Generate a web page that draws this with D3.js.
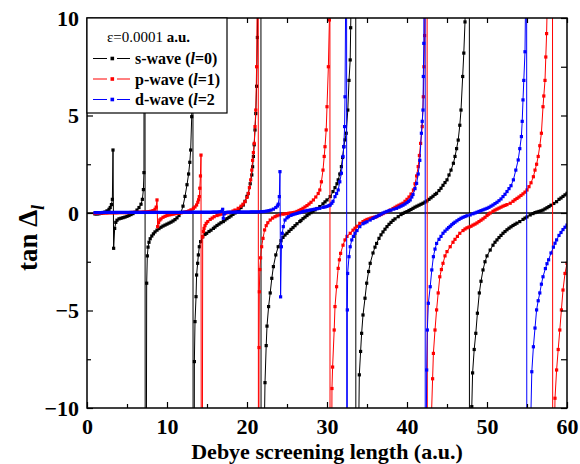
<!DOCTYPE html>
<html>
<head>
<meta charset="utf-8">
<script src="https://cdn.jsdelivr.net/npm/d3@7"></script>
<style>
  body { margin: 0; background: #fff; }
  text { font-family: "Liberation Serif", "Times New Roman", serif; }
</style>
</head>
<body>
<div id="chart"></div>
<script>
// tan(delta_l) vs Debye screening length
const sWave = [[1.0,-0.05],[1.25,-0.05],[1.5,-0.04],[1.75,-0.02],[2.0,0.01],[2.25,0.05],[2.5,0.11],[2.75,0.19],[2.9,0.28],[3.05,0.43],[3.17,0.7],[3.25,3.23],[3.33,-1.81],[3.46,-0.79],[3.6,-0.48],[3.75,-0.37],[4.0,-0.3],[4.25,-0.27],[4.5,-0.24],[4.75,-0.21],[5.0,-0.17],[5.25,-0.13],[5.5,-0.08],[5.75,-0.03],[6.0,0.04],[6.25,0.15],[6.5,0.28],[6.75,0.45],[6.92,0.7],[7.05,1.2],[7.12,2.07],[7.2,60],[7.3,-40],[7.46,-3.6],[7.54,-2.2],[7.63,-1.75],[7.75,-1.5],[7.9,-1.32],[8.1,-1.18],[8.3,-1.07],[8.5,-0.97],[8.75,-0.88],[9.0,-0.8],[9.25,-0.73],[9.5,-0.67],[9.75,-0.62],[10.0,-0.57],[10.25,-0.52],[10.5,-0.47],[10.75,-0.41],[11.0,-0.34],[11.25,-0.25],[11.5,-0.13],[11.75,0.03],[12.0,0.35],[12.25,0.85],[12.5,1.45],[12.7,2.0],[12.85,2.6],[12.96,3.23],[13.09,4.94],[13.2,60],[13.3,-60],[13.42,-7.62],[13.5,-5.57],[13.63,-4.29],[13.7,-3.18],[13.83,-2.58],[13.92,-2.15],[14.04,-1.73],[14.2,-1.47],[14.46,-1.22],[14.75,-1.1],[14.96,-1.04],[15.25,-0.95],[15.5,-0.88],[15.8,-0.79],[16.0,-0.72],[16.25,-0.64],[16.5,-0.57],[16.75,-0.5],[17.04,-0.44],[17.25,-0.36],[17.5,-0.29],[17.75,-0.22],[18.0,-0.15],[18.25,-0.07],[18.5,0.0],[18.75,0.08],[19.0,0.17],[19.25,0.28],[19.54,0.41],[19.75,0.6],[20.0,0.85],[20.16,1.0],[20.4,1.5],[20.6,1.95],[20.7,2.37],[20.8,2.9],[20.9,3.5],[21.0,4.26],[21.1,5.1],[21.2,6.5],[21.3,9.0],[21.4,14],[21.55,30],[21.7,80],[21.8,-80],[22.0,-20],[22.1,-13],[22.25,-8.7],[22.4,-6.8],[22.5,-5.8],[22.7,-4.8],[22.9,-4.1],[23.1,-3.35],[23.3,-2.75],[23.6,-2.15],[23.9,-1.73],[24.25,-1.42],[24.5,-1.25],[24.75,-1.13],[25.0,-1.04],[25.25,-0.94],[25.5,-0.84],[25.75,-0.75],[26.0,-0.65],[26.25,-0.55],[26.6,-0.44],[26.75,-0.38],[27.0,-0.29],[27.25,-0.21],[27.5,-0.13],[27.75,-0.05],[28.0,0.02],[28.25,0.09],[28.5,0.16],[28.75,0.23],[29.1,0.33],[29.5,0.47],[29.75,0.57],[30.0,0.67],[30.4,0.84],[30.75,1.1],[31.0,1.3],[31.25,1.5],[31.4,1.7],[31.6,2.0],[31.8,2.38],[31.95,2.85],[32.1,3.4],[32.25,3.75],[32.4,4.09],[32.6,5.28],[32.75,6.8],[32.9,7.85],[32.96,9.5],[33.1,13],[33.3,25],[33.55,100],[33.65,-100],[33.85,-15],[34.04,-8.3],[34.2,-7.1],[34.33,-6.17],[34.5,-5.23],[34.75,-4.37],[34.96,-3.6],[35.2,-3.0],[35.4,-2.58],[35.75,-2.05],[36.0,-1.75],[36.2,-1.56],[36.5,-1.3],[36.75,-1.12],[37.0,-0.97],[37.25,-0.83],[37.5,-0.7],[37.75,-0.58],[38.0,-0.48],[38.25,-0.38],[38.5,-0.3],[38.9,-0.19],[39.25,-0.08],[39.5,-0.02],[39.75,0.03],[40.0,0.07],[40.25,0.13],[40.5,0.18],[40.75,0.24],[41.0,0.3],[41.25,0.35],[41.5,0.4],[41.75,0.45],[42.0,0.5],[42.25,0.56],[42.5,0.62],[42.75,0.7],[43.0,0.78],[43.25,0.86],[43.5,0.95],[43.7,1.01],[44.0,1.15],[44.25,1.27],[44.5,1.42],[44.75,1.56],[45.0,1.7],[45.25,1.95],[45.5,2.2],[45.8,2.55],[46.0,2.9],[46.2,3.3],[46.4,3.74],[46.6,4.5],[46.75,5.28],[46.96,7.0],[47.1,8.2],[47.25,9.8],[47.4,13],[47.6,30],[47.75,150],[47.85,-150],[48.0,-13],[48.1,-9.93],[48.2,-8.2],[48.4,-7.0],[48.6,-6.17],[48.8,-5.14],[49.04,-4.1],[49.25,-3.5],[49.5,-2.92],[49.75,-2.5],[50.0,-2.2],[50.4,-1.9],[50.75,-1.65],[51.0,-1.5],[51.25,-1.38],[51.5,-1.26],[51.75,-1.15],[52.0,-1.04],[52.25,-0.95],[52.5,-0.86],[52.75,-0.78],[53.0,-0.71],[53.25,-0.64],[53.5,-0.58],[53.75,-0.52],[54.1,-0.44],[54.5,-0.33],[54.75,-0.26],[55.0,-0.2],[55.4,-0.1],[55.75,-0.03],[56.0,0.02],[56.25,0.05],[56.5,0.08],[56.75,0.11],[57.0,0.15],[57.25,0.21],[57.5,0.27],[57.75,0.33],[58.0,0.4],[58.35,0.49],[58.7,0.58],[59.0,0.7],[59.25,0.77],[59.5,0.85],[59.75,0.93],[60.0,1.01]];

const pWave = [[1.0,-0.02],[1.25,-0.02],[1.5,-0.01],[1.75,-0.01],[2.0,0.0],[2.25,0.0],[2.5,0.0],[2.75,0.01],[3.0,0.01],[3.25,0.01],[3.5,0.01],[3.75,0.01],[4.0,0.02],[4.25,0.02],[4.5,0.02],[4.75,0.02],[5.0,0.02],[5.25,0.02],[5.5,0.03],[5.75,0.03],[6.0,0.03],[6.25,0.03],[6.5,0.04],[6.75,0.04],[7.0,0.05],[7.25,0.05],[7.5,0.06],[7.75,0.07],[8.0,0.09],[8.25,0.12],[8.5,0.19],[8.65,0.3],[8.75,0.67],[8.83,-0.7],[8.95,-0.5],[9.1,-0.36],[9.25,-0.3],[9.5,-0.22],[9.75,-0.17],[10.0,-0.13],[10.25,-0.1],[10.5,-0.08],[10.75,-0.06],[11.0,-0.04],[11.25,-0.02],[11.5,-0.01],[11.75,0.01],[12.0,0.03],[12.25,0.05],[12.5,0.07],[12.75,0.11],[13.0,0.16],[13.3,0.24],[13.5,0.31],[13.7,0.41],[13.85,0.55],[13.95,0.68],[14.04,0.84],[14.1,1.27],[14.18,1.9],[14.25,2.97],[14.33,-40],[14.46,-1.22],[14.55,-0.95],[14.63,-0.79],[14.75,-0.65],[14.9,-0.53],[15.1,-0.44],[15.4,-0.33],[15.65,-0.26],[15.9,-0.19],[16.25,-0.13],[16.5,-0.09],[16.75,-0.06],[17.0,-0.03],[17.25,-0.01],[17.5,0.01],[17.9,0.04],[18.25,0.1],[18.5,0.15],[18.9,0.24],[19.25,0.35],[19.5,0.45],[19.75,0.58],[20.0,0.8],[20.16,1.0],[20.3,1.3],[20.46,1.7],[20.6,2.2],[20.7,2.7],[20.8,3.1],[20.9,3.57],[21.0,4.43],[21.1,5.28],[21.2,7.5],[21.3,12],[21.38,40],[21.45,-40],[21.5,-6.9],[21.54,-4.04],[21.6,-2.9],[21.7,-2.3],[21.83,-1.73],[22.0,-1.3],[22.2,-0.87],[22.4,-0.65],[22.6,-0.5],[22.9,-0.36],[23.2,-0.26],[23.5,-0.19],[23.75,-0.14],[24.1,-0.1],[24.5,-0.06],[24.75,-0.04],[25.0,-0.03],[25.25,-0.01],[25.5,0.0],[25.75,0.02],[26.0,0.04],[26.25,0.08],[26.5,0.13],[26.75,0.18],[27.0,0.24],[27.25,0.31],[27.5,0.38],[27.75,0.46],[28.0,0.55],[28.3,0.67],[28.6,0.82],[28.9,1.0],[29.1,1.18],[29.3,1.6],[29.5,2.2],[29.65,2.9],[29.75,3.4],[29.9,4.26],[30.0,5.45],[30.17,7.5],[30.3,9.9],[30.35,30],[30.4,-40],[30.62,-9.0],[30.7,-7.9],[30.9,-6.0],[31.0,-4.8],[31.2,-3.78],[31.4,-2.84],[31.55,-2.4],[31.7,-2.07],[32.0,-1.65],[32.25,-1.38],[32.5,-1.2],[32.9,-1.04],[33.25,-0.88],[33.5,-0.78],[33.75,-0.68],[34.1,-0.53],[34.5,-0.44],[34.75,-0.38],[35.0,-0.33],[35.25,-0.3],[35.5,-0.26],[35.75,-0.23],[36.0,-0.21],[36.2,-0.19],[36.5,-0.13],[36.75,-0.08],[37.0,-0.03],[37.25,0.02],[37.5,0.07],[37.9,0.15],[38.25,0.23],[38.5,0.29],[38.75,0.35],[39.0,0.4],[39.25,0.45],[39.5,0.5],[39.75,0.6],[40.0,0.7],[40.25,0.82],[40.5,0.97],[40.8,1.18],[41.0,1.5],[41.2,1.9],[41.4,2.38],[41.55,2.95],[41.7,3.57],[41.9,4.43],[42.04,5.96],[42.12,7.5],[42.2,9.1],[42.3,15],[42.45,60],[42.6,-60],[42.9,-15],[43.05,-10.5],[43.2,-8.5],[43.3,-7.2],[43.5,-6.0],[43.7,-4.97],[43.9,-4.1],[44.1,-3.27],[44.3,-2.9],[44.5,-2.58],[44.75,-2.2],[45.0,-1.98],[45.4,-1.73],[45.75,-1.5],[46.0,-1.35],[46.3,-1.2],[46.6,-1.04],[47.0,-0.9],[47.25,-0.82],[47.5,-0.76],[47.75,-0.72],[48.0,-0.68],[48.25,-0.62],[48.5,-0.57],[48.75,-0.51],[49.0,-0.44],[49.25,-0.37],[49.5,-0.3],[49.75,-0.22],[50.0,-0.13],[50.2,-0.06],[50.4,0.0],[50.75,0.09],[51.0,0.15],[51.25,0.2],[51.5,0.25],[51.75,0.3],[52.0,0.35],[52.25,0.39],[52.5,0.43],[52.9,0.5],[53.25,0.6],[53.5,0.68],[53.75,0.75],[54.0,0.82],[54.25,0.9],[54.5,0.98],[54.75,1.07],[55.0,1.18],[55.25,1.35],[55.5,1.55],[55.8,1.86],[56.0,2.2],[56.2,2.5],[56.4,2.9],[56.6,3.45],[56.8,4.09],[57.0,5.45],[57.1,6.0],[57.25,6.8],[57.35,8.0],[57.45,9.2],[57.6,12],[57.8,25],[58.1,100],[58.3,-100],[58.45,-11],[58.5,-9.5],[58.7,-8.05],[58.9,-7.0],[59.1,-6.0],[59.3,-4.97],[59.5,-3.95],[59.75,-3.1],[60.0,-2.58]];

const dWave = [[1.0,0.02],[1.25,0.02],[1.5,0.02],[1.75,0.02],[2.0,0.03],[2.25,0.03],[2.5,0.03],[2.75,0.03],[3.0,0.03],[3.25,0.03],[3.5,0.03],[3.75,0.03],[4.0,0.03],[4.25,0.03],[4.5,0.03],[4.75,0.03],[5.0,0.03],[5.25,0.03],[5.5,0.03],[5.75,0.03],[6.0,0.03],[6.25,0.03],[6.5,0.03],[6.75,0.03],[7.0,0.03],[7.25,0.03],[7.5,0.03],[7.75,0.03],[8.0,0.03],[8.25,0.03],[8.5,0.03],[8.75,0.03],[9.0,0.03],[9.25,0.03],[9.5,0.03],[9.75,0.03],[10.0,0.03],[10.25,0.03],[10.5,0.03],[10.75,0.03],[11.0,0.03],[11.25,0.03],[11.5,0.03],[11.75,0.03],[12.0,0.04],[12.25,0.04],[12.5,0.04],[12.75,0.04],[13.0,0.04],[13.25,0.04],[13.5,0.04],[13.75,0.04],[14.0,0.04],[14.25,0.04],[14.5,0.04],[14.75,0.04],[15.0,0.04],[15.25,0.04],[15.5,0.04],[15.75,0.05],[16.0,0.05],[16.25,0.05],[16.5,0.06],[16.75,0.07],[16.9,0.1],[16.96,0.19],[17.04,-0.27],[17.15,-0.05],[17.3,0.02],[17.5,0.04],[17.75,0.04],[18.0,0.04],[18.25,0.04],[18.5,0.05],[18.75,0.05],[19.0,0.05],[19.25,0.05],[19.5,0.05],[19.75,0.05],[20.0,0.05],[20.25,0.05],[20.5,0.06],[20.75,0.06],[21.0,0.06],[21.25,0.06],[21.5,0.06],[21.75,0.07],[22.0,0.07],[22.25,0.08],[22.5,0.1],[22.75,0.12],[23.0,0.15],[23.3,0.2],[23.6,0.28],[23.8,0.36],[23.9,0.45],[24.04,0.84],[24.12,2.12],[24.2,-4.3],[24.3,-1.73],[24.4,-1.04],[24.54,-0.7],[24.75,-0.36],[25.0,-0.25],[25.2,-0.19],[25.5,-0.12],[25.75,-0.08],[26.0,-0.05],[26.25,-0.02],[26.5,0.01],[26.75,0.04],[27.0,0.07],[27.25,0.1],[27.5,0.12],[27.75,0.14],[28.0,0.16],[28.25,0.18],[28.5,0.2],[28.75,0.22],[29.1,0.24],[29.5,0.29],[29.75,0.31],[30.0,0.34],[30.25,0.38],[30.4,0.41],[30.6,0.5],[30.75,0.6],[31.0,0.84],[31.2,1.0],[31.4,1.18],[31.6,1.6],[31.8,2.04],[32.0,2.9],[32.1,3.4],[32.2,4.43],[32.25,5.96],[32.35,12],[32.42,50],[32.5,-50],[32.54,-4.97],[32.58,-3.1],[32.75,-2.24],[32.9,-1.73],[33.1,-1.38],[33.3,-1.2],[33.5,-1.04],[33.75,-0.9],[34.1,-0.7],[34.5,-0.55],[34.75,-0.5],[35.0,-0.45],[35.4,-0.36],[35.75,-0.28],[36.0,-0.22],[36.25,-0.17],[36.5,-0.12],[36.75,-0.06],[37.0,0.0],[37.25,0.04],[37.5,0.08],[37.75,0.12],[38.0,0.15],[38.35,0.2],[38.7,0.24],[39.0,0.3],[39.25,0.35],[39.5,0.4],[39.75,0.46],[40.0,0.53],[40.2,0.6],[40.4,0.67],[40.6,0.82],[40.75,0.95],[41.0,1.25],[41.2,1.52],[41.4,2.0],[41.6,2.7],[41.8,4.09],[41.9,4.7],[42.0,5.28],[42.04,7.0],[42.1,8.7],[42.18,20],[42.25,100],[42.3,-100],[42.4,-12],[42.46,-8.05],[42.54,-6.0],[42.67,-4.63],[42.9,-3.78],[43.1,-2.92],[43.3,-2.24],[43.5,-1.85],[43.7,-1.56],[44.0,-1.35],[44.25,-1.2],[44.5,-1.04],[44.75,-0.93],[45.0,-0.83],[45.2,-0.75],[45.4,-0.68],[45.6,-0.6],[45.8,-0.53],[46.0,-0.47],[46.25,-0.4],[46.5,-0.33],[46.75,-0.27],[47.0,-0.22],[47.25,-0.18],[47.5,-0.14],[47.9,-0.1],[48.25,-0.04],[48.5,0.0],[48.75,0.04],[49.0,0.08],[49.25,0.12],[49.5,0.16],[49.75,0.2],[50.0,0.24],[50.25,0.29],[50.5,0.35],[50.75,0.41],[51.0,0.48],[51.25,0.55],[51.5,0.63],[51.75,0.72],[52.0,0.84],[52.25,0.96],[52.5,1.1],[52.75,1.25],[53.0,1.4],[53.3,1.7],[53.6,2.2],[53.9,2.72],[54.1,3.3],[54.3,3.92],[54.4,4.7],[54.5,5.8],[54.6,6.8],[54.75,8.27],[54.85,12],[54.93,50],[55.0,-50],[55.4,-12],[55.6,-8.14],[55.8,-6.86],[56.0,-5.9],[56.2,-4.97],[56.4,-4.5],[56.6,-4.1],[56.8,-3.65],[57.0,-3.27],[57.3,-2.85],[57.5,-2.6],[57.7,-2.4],[58.0,-2.05],[58.3,-1.75],[58.5,-1.55],[58.7,-1.38],[59.0,-1.15],[59.25,-1.0],[59.5,-0.85],[59.75,-0.73],[60.0,-0.62]];

const seriesNames = ["s-wave", "p-wave", "d-wave"];
const seriesL = ["=0)", "=1)", "=2"];
const seriesColors = ["#000000", "#ff0000", "#0000ff"];
const xMajor = [0, 10, 20, 30, 40, 50, 60];
const xMinor = [5, 15, 25, 35, 45, 55];
const yMajor = [-10, -5, 0, 5, 10];
const yMinor = [-7.5, -2.5, 2.5, 7.5];

const W = 580, H = 464;
const margin = { top: 18, left: 87, right: 13, bottom: 56 };

const x = d3.scaleLinear().domain([0, 60]).range([margin.left, W - margin.right]);
const y = d3.scaleLinear().domain([-10, 10]).range([H - margin.bottom, margin.top]);

const svg = d3.select('#chart').append('svg')
  .attr('width', W)
  .attr('height', H);

svg.append('clipPath').attr('id', 'plotClip')
  .append('rect')
  .attr('x', x(0)).attr('y', y(10))
  .attr('width', x(60) - x(0)).attr('height', y(-10) - y(10));

// zero line
svg.append('line')
  .attr('x1', x(0)).attr('x2', x(60))
  .attr('y1', y(0)).attr('y2', y(0))
  .attr('stroke', '#000').attr('stroke-width', 1.5);

const plot = svg.append('g').attr('clip-path', 'url(#plotClip)');
const line = d3.line().x(d => x(d[0])).y(d => y(d[1]));

[sWave, pWave, dWave].forEach((data, i) => {
  plot.append('path')
    .datum(data)
    .attr('fill', 'none')
    .attr('stroke', seriesColors[i])
    .attr('stroke-width', 1)
    .attr('d', line);

  plot.append('g')
    .selectAll('rect')
    .data(data.filter(d => Math.abs(d[1]) <= 10.5))
    .join('rect')
    .attr('x', d => x(d[0]) - 1.6)
    .attr('y', d => y(d[1]) - 1.6)
    .attr('width', 3.2)
    .attr('height', 3.2)
    .attr('fill', seriesColors[i]);
});

// axes, ticks pointing inward
function styleAxis(g) {
  g.select('.domain').remove();
  g.selectAll('line').attr('stroke', '#000').attr('stroke-width', 1.2);
  g.selectAll('text')
    .attr('fill', '#000')
    .style('font-size', '22px')
    .style('font-weight', 'bold')
    .style('font-family', '"Liberation Serif", serif');
}

svg.append('g')
  .attr('transform', 'translate(0,' + y(-10) + ')')
  .call(d3.axisBottom(x).tickValues(xMajor).tickSize(-6).tickPadding(10).tickFormat(d3.format('d')))
  .call(styleAxis);
svg.append('g')
  .attr('transform', 'translate(0,' + y(-10) + ')')
  .call(d3.axisBottom(x).tickValues(xMinor).tickSize(-4).tickFormat(''))
  .call(styleAxis);
svg.append('g')
  .attr('transform', 'translate(0,' + y(10) + ')')
  .call(d3.axisTop(x).tickValues(xMajor.concat(xMinor)).tickSize(-5).tickFormat(''))
  .call(styleAxis);

svg.append('g')
  .attr('transform', 'translate(' + x(0) + ',0)')
  .call(d3.axisLeft(y).tickValues(yMajor).tickSize(-6).tickPadding(8).tickFormat(d3.format('d')))
  .call(styleAxis);
svg.append('g')
  .attr('transform', 'translate(' + x(0) + ',0)')
  .call(d3.axisLeft(y).tickValues(yMinor).tickSize(-4).tickFormat(''))
  .call(styleAxis);
svg.append('g')
  .attr('transform', 'translate(' + x(60) + ',0)')
  .call(d3.axisRight(y).tickValues(yMajor.concat(yMinor)).tickSize(-6).tickFormat(''))
  .call(styleAxis);

// frame
svg.append('rect')
  .attr('x', x(0)).attr('y', y(10))
  .attr('width', x(60) - x(0)).attr('height', y(-10) - y(10))
  .attr('fill', 'none')
  .attr('stroke', '#000')
  .attr('stroke-width', 1.5);

// axis titles
svg.append('text')
  .attr('x', (x(0) + x(60)) / 2)
  .attr('y', 459)
  .attr('text-anchor', 'middle')
  .style('font-size', '22px')
  .style('font-weight', 'bold')
  .text('Debye screening length (a.u.)');

let yTitle = svg.append('text')
  .attr('transform', 'translate(37,238) rotate(-90)')
  .attr('text-anchor', 'middle')
  .style('font-size', '27px')
  .style('font-weight', 'bold');
yTitle.append('tspan').text('tan \u0394');
yTitle.append('tspan')
  .attr('dy', 7)
  .style('font-size', '18px')
  .style('font-style', 'italic')
  .text('l');

// legend
const legend = svg.append('g');
legend.append('rect')
  .attr('x', x(0)).attr('y', y(10))
  .attr('width', 140).attr('height', 95)
  .attr('fill', '#fff')
  .attr('stroke', '#000')
  .attr('stroke-width', 1.2);

let lt = legend.append('text')
  .attr('x', 107).attr('y', 41.5)
  .style('font-size', '15px');
lt.append('tspan').text('\u03b5=0.0001 ');
lt.append('tspan').style('font-weight', 'bold').text('a.u.');

seriesNames.forEach((name, i) => {
  const cy = 58.5 + i * 20.5;
  const row = legend.append('g');
  row.append('line')
    .attr('x1', 93).attr('x2', 107).attr('y1', cy).attr('y2', cy)
    .attr('stroke', seriesColors[i]).attr('stroke-width', 1);
  row.append('line')
    .attr('x1', 117).attr('x2', 130).attr('y1', cy).attr('y2', cy)
    .attr('stroke', seriesColors[i]).attr('stroke-width', 1);
  row.append('rect')
    .attr('x', 110.5).attr('y', cy - 1.8)
    .attr('width', 3.6).attr('height', 3.6)
    .attr('fill', seriesColors[i]);
  const t = row.append('text')
    .attr('x', 135).attr('y', cy + 5.5)
    .style('font-size', '16px')
    .style('font-weight', 'bold');
  t.append('tspan').text(name + ' (');
  t.append('tspan').style('font-style', 'italic').text('l');
  t.append('tspan').text(seriesL[i]);
});
</script>
</body>
</html>
